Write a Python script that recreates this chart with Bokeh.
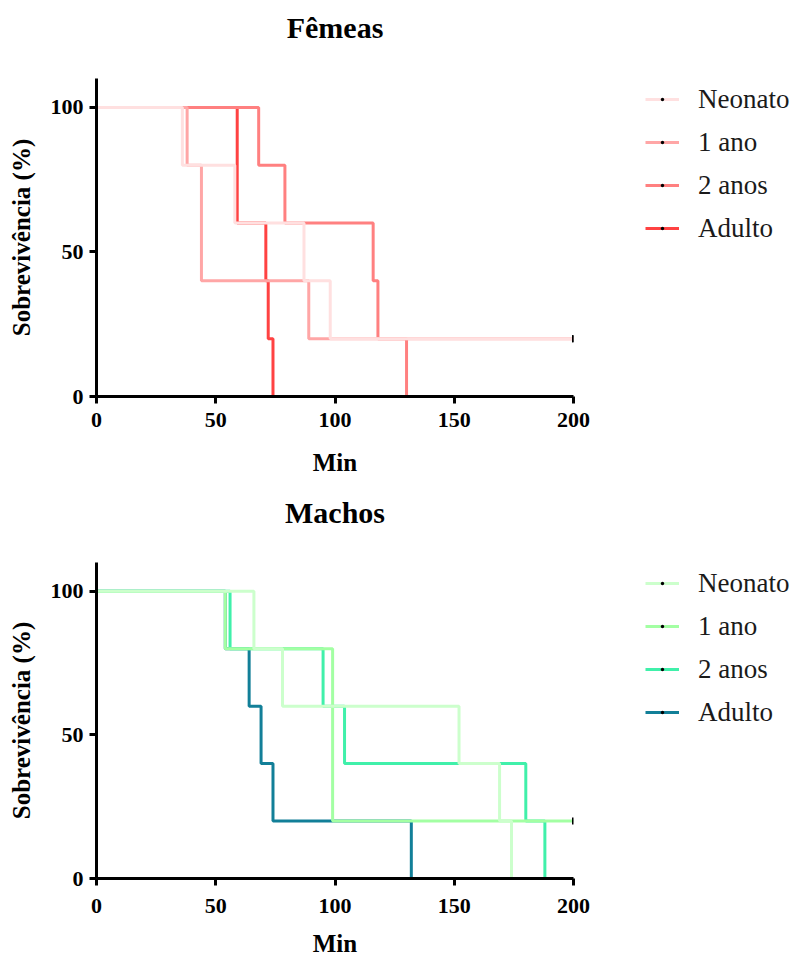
import math
from bokeh.plotting import figure
from bokeh.models import (ColumnDataSource, Legend, LegendItem, FixedTicker,
                          Range1d, Title)
from bokeh.layouts import column
from bokeh.embed import file_html
from bokeh.resources import INLINE

FONT = "Liberation Serif"

groups = ["Neonato", "1 ano", "2 anos", "Adulto"]

# Fêmeas (time in min, survival %)
f_neo_t = [0, 36, 58, 87, 98, 200]
f_neo_s = [100, 80, 60, 40, 20, 20]
f_neo_ct = [200]
f_neo_cs = [20]

f_1a_t = [0, 38, 44, 89, 200]
f_1a_s = [100, 80, 40, 20, 20]
f_1a_ct = [200]
f_1a_cs = [20]

f_2a_t = [0, 68, 79, 116, 118, 130]
f_2a_s = [100, 80, 60, 40, 20, 0]
f_2a_ct = []
f_2a_cs = []

f_ad_t = [0, 59, 71, 72, 74]
f_ad_s = [100, 60, 40, 20, 0]
f_ad_ct = []
f_ad_cs = []

# Machos
m_neo_t = [0, 66, 78, 152, 169, 174]
m_neo_s = [100, 80, 60, 40, 20, 0]
m_neo_ct = []
m_neo_cs = []

m_1a_t = [0, 54, 99, 200]
m_1a_s = [100, 80, 20, 20]
m_1a_ct = [200]
m_1a_cs = [20]

m_2a_t = [0, 56, 95, 104, 180, 188]
m_2a_s = [100, 80, 60, 40, 20, 0]
m_2a_ct = []
m_2a_cs = []

m_ad_t = [0, 54, 64, 69, 74, 132]
m_ad_s = [100, 80, 60, 40, 20, 0]
m_ad_ct = []
m_ad_cs = []

f_colors = ["#FFE0E0", "#FFA6A6", "#FF8080", "#FF4242"]
m_colors = ["#CCFFCC", "#A3FFA3", "#40F0AA", "#127F98"]

x_ticks = [0, 50, 100, 150, 200]
y_ticks = [0, 50, 100]


def make_fig(title, series, colors, top, fh, bottom, spacer_standoff,
             tick_standoff, xlabel_standoff):
    p = figure(frame_width=477, frame_height=fh, min_border_left=96,
               min_border_right=219, min_border_top=top, min_border_bottom=bottom,
               x_range=Range1d(0, 200), y_range=Range1d(0, 110),
               output_backend="svg", toolbar_location=None, title=title)
    p.title.align = "center"
    p.title.text_font = FONT
    p.title.text_font_size = "30px"
    p.title.text_font_style = "bold"
    p.title.text_color = "black"
    p.title.standoff = 14
    # blank spacer between the title and the plot area
    spacer = Title(text=" ", text_font_size="10px", standoff=spacer_standoff)
    p.add_layout(spacer, "above")

    p.outline_line_color = None
    p.grid.visible = False
    p.xaxis.ticker = FixedTicker(ticks=x_ticks)
    p.yaxis.ticker = FixedTicker(ticks=y_ticks)
    p.xaxis.axis_label = "Min"
    p.yaxis.axis_label = "Sobrevivência (%)"
    for ax in (p.xaxis, p.yaxis):
        ax.axis_line_width = 3
        ax.axis_line_color = "black"
        ax.major_tick_line_width = 3
        ax.major_tick_line_color = "black"
        ax.major_tick_out = 7
        ax.major_tick_in = 0
        ax.minor_tick_line_color = None
        ax.major_label_text_font = FONT
        ax.major_label_text_font_style = "bold"
        ax.major_label_text_font_size = "22px"
        ax.major_label_text_color = "black"
        ax.axis_label_text_font = FONT
        ax.axis_label_text_font_style = "bold"
        ax.axis_label_text_color = "black"
        ax.axis_label_text_font_size = "25px"
    p.xaxis.major_label_standoff = tick_standoff
    p.xaxis.axis_label_standoff = xlabel_standoff
    p.yaxis.major_label_standoff = 6
    p.yaxis.axis_label_standoff = 13

    items = {}
    # draw Adulto first so Neonato ends on top
    for i in reversed(range(len(series))):
        t, s, ct, cs = series[i]
        src = ColumnDataSource(dict(t=t, s=s))
        ln = p.step("t", "s", source=src, mode="after", line_color=colors[i],
                    line_width=3)
        csrc = ColumnDataSource(dict(t=ct, s=cs))
        p.scatter("t", "s", source=csrc, marker="dash", angle=math.pi / 2,
                  size=7, line_color="black", line_width=3)
        # legend-only censor symbol (no data position)
        proxy = p.scatter([math.nan], [math.nan], marker="dot", size=8,
                          line_color="black", fill_color="black", line_width=1)
        items[i] = [ln, proxy]

    legend = Legend(items=[LegendItem(label=groups[i], renderers=items[i])
                           for i in range(len(groups))])
    legend.location = (72, fh - 171)
    legend.padding = 0
    legend.margin = 0
    legend.spacing = 1
    legend.glyph_width = 34
    legend.glyph_height = 42
    legend.label_height = 42
    legend.label_standoff = 19
    legend.label_text_font = FONT
    legend.label_text_font_size = "27px"
    legend.label_text_color = "#1a1a1a"
    legend.background_fill_alpha = 0
    legend.border_line_color = None
    p.add_layout(legend, "right")
    return p


f_series = [(f_neo_t, f_neo_s, f_neo_ct, f_neo_cs),
            (f_1a_t, f_1a_s, f_1a_ct, f_1a_cs),
            (f_2a_t, f_2a_s, f_2a_ct, f_2a_cs),
            (f_ad_t, f_ad_s, f_ad_ct, f_ad_cs)]
m_series = [(m_neo_t, m_neo_s, m_neo_ct, m_neo_cs),
            (m_1a_t, m_1a_s, m_1a_ct, m_1a_cs),
            (m_2a_t, m_2a_s, m_2a_ct, m_2a_cs),
            (m_ad_t, m_ad_s, m_ad_ct, m_ad_cs)]

p1 = make_fig("Fêmeas", f_series, f_colors, 78, 318, 84, 15, 9, 19)
p2 = make_fig("Machos", m_series, m_colors, 82, 316, 77, 14, 13, 14)

layout = column(p1, p2, spacing=0)
open("out.html", "w").write(file_html(layout, INLINE))
